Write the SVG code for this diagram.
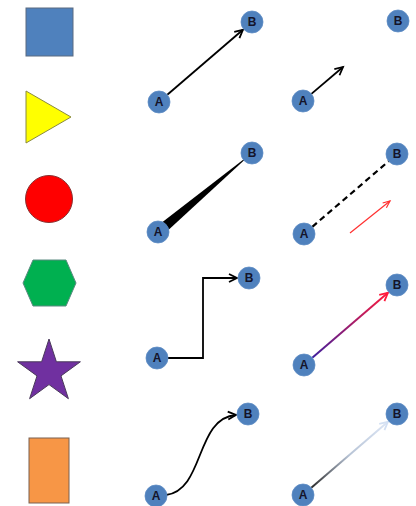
<svg xmlns="http://www.w3.org/2000/svg" width="416" height="506" viewBox="0 0 416 506">
<style>
.node circle{fill:#4f81bd;stroke:#5d8cc4;stroke-width:0.8}
.node text{font-family:"Liberation Sans",Arial,sans-serif;font-size:12px;font-weight:bold;fill:#14142a;text-anchor:middle;dominant-baseline:central}
.ln{fill:none;stroke:#000;stroke-width:1.8}
</style>
<defs>
<marker id="arr" markerUnits="userSpaceOnUse" markerWidth="12" markerHeight="12" refX="9" refY="5" orient="auto" viewBox="0 0 12 10">
<path d="M1,1 L9,5 L1,9" fill="none" stroke="#000" stroke-width="1.8"/>
</marker>
<marker id="arrRed" markerUnits="userSpaceOnUse" markerWidth="10" markerHeight="10" refX="8" refY="4" orient="auto" viewBox="0 0 10 8">
<path d="M1,1 L8,4 L1,7" fill="none" stroke="#ff3030" stroke-width="1.2"/>
</marker>
<marker id="arrRed2" markerUnits="userSpaceOnUse" markerWidth="12" markerHeight="12" refX="9" refY="5" orient="auto" viewBox="0 0 12 10">
<path d="M1,1 L9,5 L1,9" fill="none" stroke="#ff1a3c" stroke-width="1.8"/>
</marker>
<marker id="arrLight" markerUnits="userSpaceOnUse" markerWidth="12" markerHeight="12" refX="9" refY="5" orient="auto" viewBox="0 0 12 10">
<path d="M1,1 L9,5 L1,9" fill="none" stroke="#d3e0f3" stroke-width="1.8"/>
</marker>
<linearGradient id="gPR" gradientUnits="userSpaceOnUse" x1="312" y1="358" x2="388" y2="293">
<stop offset="0" stop-color="#3d1f9e"/><stop offset="1" stop-color="#ff1a3c"/>
</linearGradient>
<linearGradient id="gFade" gradientUnits="userSpaceOnUse" x1="311" y1="488" x2="388" y2="422">
<stop offset="0" stop-color="#2a2a2a"/><stop offset="0.5" stop-color="#b8c4d6"/><stop offset="1" stop-color="#dce6f6"/>
</linearGradient>
</defs>

<g id="shapes">
<rect id="square" x="26" y="8" width="47" height="48" fill="#4f81bd" stroke="#5a6a80" stroke-width="1"/>
<polygon id="triangle" points="26,91 71,117 26,143" fill="#ffff00" stroke="#8a8a40" stroke-width="1"/>
<circle id="circle" cx="49" cy="199" r="23.5" fill="#ff0000" stroke="#8a3030" stroke-width="1"/>
<polygon id="hexagon" points="33,260 66,260 76,283 66,306 33,306 23,283" fill="#00b050" stroke="#5a8a80" stroke-width="1"/>
<polygon id="star" points="49,339 56.4,361.8 80.4,361.8 61,375.9 68.4,398.7 49,384.6 29.6,398.7 37,375.9 17.6,361.8 41.6,361.8" fill="#7030a0" stroke="#4a3a5a" stroke-width="1"/>
<rect id="rectangle" x="29" y="438" width="40" height="65" fill="#f79646" stroke="#7a6050" stroke-width="1"/>
</g>

<g id="connectors">
<line class="ln" x1="167.3" y1="94.8" x2="242.9" y2="29.8" marker-end="url(#arr)"/>
<line class="ln" x1="311.4" y1="93.9" x2="343" y2="67" marker-end="url(#arr)"/>
<polygon points="167.3,230.9 160.9,223.2 244.1,159.1 244.7,159.7" fill="#000"/>
<line x1="312.3" y1="226.8" x2="388.7" y2="161.2" stroke="#000" stroke-width="2.2" stroke-dasharray="6,4"/>
<line x1="350" y1="233" x2="390" y2="201" stroke="#ff3030" stroke-width="1.2" marker-end="url(#arrRed)"/>
<path class="ln" d="M168,358 H203 V278 H237" marker-end="url(#arr)"/>
<line x1="312.3" y1="357.8" x2="387.9" y2="292.8" stroke="url(#gPR)" stroke-width="2" marker-end="url(#arrRed2)"/>
<path class="ln" d="M166,495 C205,490 195,418 236,415" marker-end="url(#arr)"/>
<line x1="311.3" y1="487.8" x2="387.9" y2="421.8" stroke="url(#gFade)" stroke-width="2" marker-end="url(#arrLight)"/>
</g>

<g id="nodeA1" class="node"><circle cx="159" cy="102" r="11"/><text x="159" y="102">A</text></g>
<g id="nodeB1" class="node"><circle cx="252" cy="22" r="11"/><text x="252" y="22">B</text></g>
<g id="nodeA2" class="node"><circle cx="303" cy="101" r="11"/><text x="303" y="101">A</text></g>
<g id="nodeB2" class="node"><circle cx="398" cy="21" r="11"/><text x="398" y="21">B</text></g>
<g id="nodeA3" class="node"><circle cx="158" cy="232" r="11"/><text x="158" y="232">A</text></g>
<g id="nodeB3" class="node"><circle cx="252" cy="153" r="11"/><text x="252" y="153">B</text></g>
<g id="nodeA4" class="node"><circle cx="304" cy="234" r="11"/><text x="304" y="234">A</text></g>
<g id="nodeB4" class="node"><circle cx="397" cy="154" r="11"/><text x="397" y="154">B</text></g>
<g id="nodeA5" class="node"><circle cx="157" cy="358" r="11"/><text x="157" y="358">A</text></g>
<g id="nodeB5" class="node"><circle cx="249" cy="278" r="11"/><text x="249" y="278">B</text></g>
<g id="nodeA6" class="node"><circle cx="304" cy="365" r="11"/><text x="304" y="365">A</text></g>
<g id="nodeB6" class="node"><circle cx="397" cy="285" r="11"/><text x="397" y="285">B</text></g>
<g id="nodeA7" class="node"><circle cx="156" cy="496" r="11"/><text x="156" y="496">A</text></g>
<g id="nodeB7" class="node"><circle cx="248" cy="414" r="11"/><text x="248" y="414">B</text></g>
<g id="nodeA8" class="node"><circle cx="303" cy="495" r="11"/><text x="303" y="495">A</text></g>
<g id="nodeB8" class="node"><circle cx="397" cy="414" r="11"/><text x="397" y="414">B</text></g>
</svg>
